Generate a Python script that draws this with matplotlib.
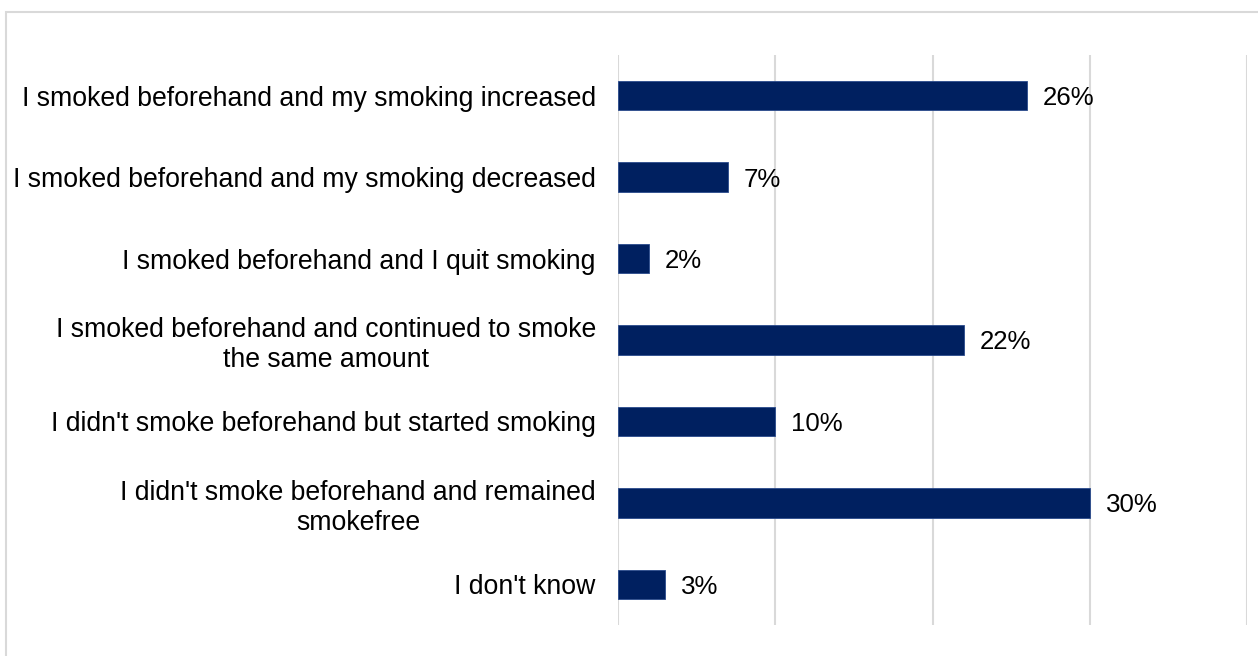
import matplotlib.pyplot as plt
from matplotlib.patches import Rectangle

# Survey answers, top to bottom
categories = [
    "I smoked beforehand and my smoking increased",
    "I smoked beforehand and my smoking decreased",
    "I smoked beforehand and I quit smoking",
    "I smoked beforehand and continued to smoke\nthe same amount",
    "I didn't smoke beforehand but started smoking",
    "I didn't smoke beforehand and remained\nsmokefree",
    "I don't know",
]
shares = [26, 7, 2, 22, 10, 30, 3]
ticks = [0, 10, 20, 30, 40]

plt.rcParams['font.family'] = ['Liberation Sans', 'DejaVu Sans']

fig = plt.figure(figsize=(12.58, 6.56), dpi=100)

# thin grey frame around the chart area
fig.patches.append(Rectangle((6 / 1258, -0.1), 1.2, 1 - 12 / 656 + 0.1,
                             transform=fig.transFigure, fill=False,
                             edgecolor='#D9D9D9', lw=1.5))

ax = fig.add_axes([618 / 1258, 31 / 656, 629 / 1258, 570 / 656])
pos = list(range(len(categories)))
ax.barh(pos, shares, height=0.36, color='#002060', edgecolor='#2A4A8C', lw=0.6, zorder=3)

for y, v in zip(pos, shares):
    ax.text(v + 1.0, y + 0.03, f"{v}%", va='center', ha='left', fontsize=18.6, color='black')

ax.set_xlim(0, 40)
ax.set_ylim(len(categories) - 0.5, -0.5)
ax.set_xticks(ticks)
ax.xaxis.grid(True, color='#D9D9D9', lw=1.5)
ax.tick_params(axis='x', length=0, labelbottom=False)
ax.tick_params(axis='y', length=0, pad=16)
ax.set_yticks(pos)
ax.set_yticklabels(categories, fontsize=19.2, multialignment='center', linespacing=1.2)
for s in ax.spines.values():
    s.set_visible(False)

fig.savefig("out.png", dpi=100)
